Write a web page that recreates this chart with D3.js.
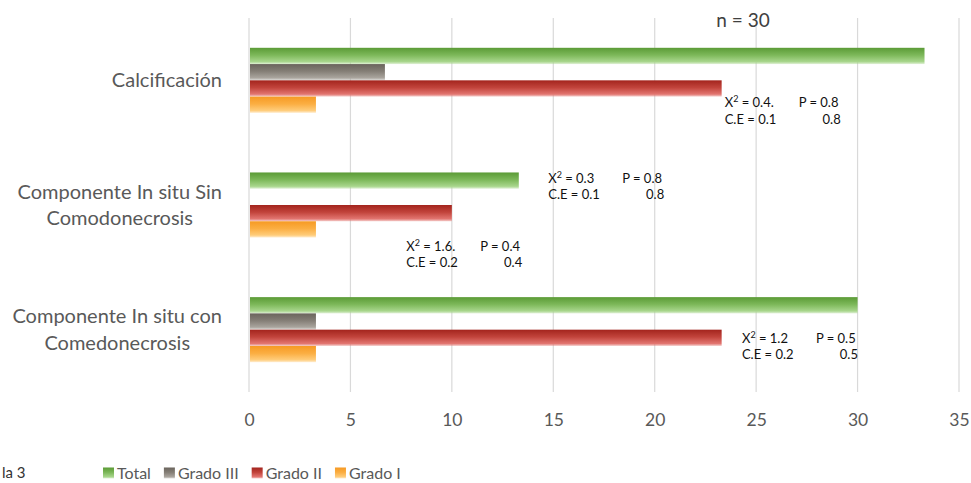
<!DOCTYPE html>
<html>
<head>
<meta charset="utf-8">
<script src="https://cdn.jsdelivr.net/npm/d3@7"></script>
<style>
  html, body { margin: 0; padding: 0; background: #fff; }
  svg { display: block; font-family: Lato, "Open Sans", sans-serif; }
</style>
</head>
<body>
<svg id="chart" width="971" height="483"></svg>
<script>
// Categories (top to bottom) and series (top to bottom inside each group)
const categories = [
  "Calcificación",
  "Componente In situ Sin Comodonecrosis",
  "Componente In situ con Comedonecrosis"
];
const categoryLines = [
  ["Calcificación"],
  ["Componente In situ Sin", "Comodonecrosis"],
  ["Componente In situ con", "Comedonecrosis"]
];
const seriesNames = ["Total", "Grado III", "Grado II", "Grado I"];

// Percentages per series, in category order
const totalValues    = [33.3, 13.3, 30.0];
const gradoIIIValues = [6.7, 0, 3.3];
const gradoIIValues  = [23.3, 10.0, 23.3];
const gradoIValues   = [3.3, 3.3, 3.3];

const xTicks = [0, 5, 10, 15, 20, 25, 30, 35];

// Statistical notes
const noteCategory = [0, 1, 1, 2];
const noteChi = ["0.4.", "0.3", "1.6.", "1.2"];
const noteP   = ["0.8", "0.8", "0.4", "0.5"];
const noteCE  = ["0.1", "0.1", "0.2", "0.2"];
const sampleLabel = "n = 30";

const seriesValues = [totalValues, gradoIIIValues, gradoIIValues, gradoIValues];

const colors = {
  "Total":     ["#5b9b36", "#7db85a", "#a8d68c"],
  "Grado III": ["#6a645c", "#857f77", "#aaa59e"],
  "Grado II":  ["#a3241d", "#c2443c", "#e27570"],
  "Grado I":   ["#f69a24", "#fbae42", "#ffcc7a"]
};

const svg = d3.select("#chart");
const margin = { left: 249, right: 12, top: 18, bottom: 91 };
const W = 971, H = 483;

const x = d3.scaleLinear().domain([0, 35]).range([margin.left, W - margin.right]);
const y0 = d3.scaleBand().domain(categories).range([margin.top, H - margin.bottom]).padding(0);
const groupH = y0.bandwidth() * 0.522;
const y1 = d3.scaleBand().domain(seriesNames).range([0, groupH]);

// Gradients
const defs = svg.append("defs");
seriesNames.forEach((s, i) => {
  const g = defs.append("linearGradient")
    .attr("id", "grad" + i).attr("x1", 0).attr("y1", 0).attr("x2", 0).attr("y2", 1);
  g.append("stop").attr("offset", "0%").attr("stop-color", colors[s][0]);
  g.append("stop").attr("offset", "45%").attr("stop-color", colors[s][1]);
  g.append("stop").attr("offset", "85%").attr("stop-color", colors[s][2]);
  g.append("stop").attr("offset", "100%").attr("stop-color", colors[s][2]).attr("stop-opacity", 0.35);
});

// Vertical gridlines
svg.append("g")
  .selectAll("line")
  .data(xTicks)
  .join("line")
  .attr("x1", d => x(d)).attr("x2", d => x(d))
  .attr("y1", margin.top).attr("y2", H - margin.bottom)
  .attr("stroke", "#d9d9d9").attr("stroke-width", 1.2);

// X axis tick labels
const xAxis = d3.axisBottom(x).tickValues(xTicks).tickSize(0).tickPadding(0);
const gx = svg.append("g")
  .attr("transform", `translate(0,${H - margin.bottom + 22})`)
  .call(xAxis);
gx.select(".domain").remove();
gx.selectAll("text")
  .attr("fill", "#595959")
  .attr("font-size", 17.5)
  .attr("font-family", "Lato, sans-serif");

// Bars
const groupOffset = (y0.bandwidth() - groupH) / 2;
const barData = [];
categories.forEach((c, ci) => {
  seriesNames.forEach((s, si) => {
    barData.push({ cat: c, series: s, si, value: seriesValues[si][ci] });
  });
});
svg.append("g")
  .selectAll("rect")
  .data(barData.filter(d => d.value > 0))
  .join("rect")
  .attr("x", x(0) + 1)
  .attr("y", d => y0(d.cat) + groupOffset + y1(d.series))
  .attr("width", d => x(d.value) - x(0) - 1)
  .attr("height", y1.bandwidth())
  .attr("fill", d => `url(#grad${d.si})`);

// Category labels, block right-aligned, lines centered within block
const labelRight = 222;
categories.forEach((c, ci) => {
  const lines = categoryLines[ci];
  const cy = y0(c) + y0.bandwidth() / 2;
  const lh = 26.5;
  const g = svg.append("g");
  const texts = lines.map((ln, li) =>
    g.append("text")
      .attr("y", cy + (li - (lines.length - 1) / 2) * lh)
      .attr("dy", "0.35em")
      .attr("fill", "#595959")
      .attr("font-size", 20)
      .attr("text-anchor", "middle")
      .text(ln));
  const widths = texts.map(t => t.node().getComputedTextLength());
  const maxW = d3.max(widths);
  texts.forEach(t => t.attr("x", labelRight - maxW / 2));
});

// Statistical notes placed beside their bars
const noteX = [23.45, 14.75, 7.75, 24.3];
const noteRow = [3.38, 0.37, 4.55, 2.52];
noteCategory.forEach((ci, i) => {
  const left = x(noteX[i]);
  const top = y0(categories[ci]) + groupOffset + noteRow[i] * y1.step();
  const g = svg.append("g").style("font-size", "13px").attr("fill", "#111");
  const chi = g.append("text").attr("x", left).attr("y", top + 4.5);
  chi.append("tspan").style("font-size", "13px").text("X");
  chi.append("tspan").style("font-size", "9px").attr("dy", -5).text("2");
  chi.append("tspan").style("font-size", "13px").attr("dy", 5).text("  = " + noteChi[i]);
  g.append("text").attr("x", left + 74).attr("y", top + 4.5)
    .text("P =  " + noteP[i]);
  g.append("text").attr("x", left).attr("y", top + 21)
    .text("C.E = " + noteCE[i]);
  g.append("text").attr("x", left + 116).attr("y", top + 21)
    .attr("text-anchor", "end")
    .text(noteP[i]);
});

// Sample size
svg.append("text")
  .attr("x", 743).attr("y", 20).attr("dy", "0.35em")
  .attr("text-anchor", "middle")
  .attr("font-size", 19)
  .attr("fill", "#404040")
  .text(sampleLabel);

// Legend
const legend = svg.append("g").attr("transform", "translate(103,473)");
let lx = 0;
seriesNames.forEach((s, i) => {
  legend.append("rect")
    .attr("x", lx).attr("y", -5.5).attr("width", 11).attr("height", 11)
    .attr("fill", `url(#grad${i})`);
  const t = legend.append("text")
    .attr("x", lx + 14).attr("y", 0).attr("dy", "0.35em")
    .attr("font-size", 16)
    .attr("fill", "#595959")
    .text(s);
  lx += 14 + t.node().getComputedTextLength() + 13;
});

// Caption fragment at the lower left edge
svg.append("text")
  .attr("x", 2).attr("y", 478)
  .attr("font-size", 15)
  .attr("fill", "#333")
  .text("la 3");
</script>
</body>
</html>
